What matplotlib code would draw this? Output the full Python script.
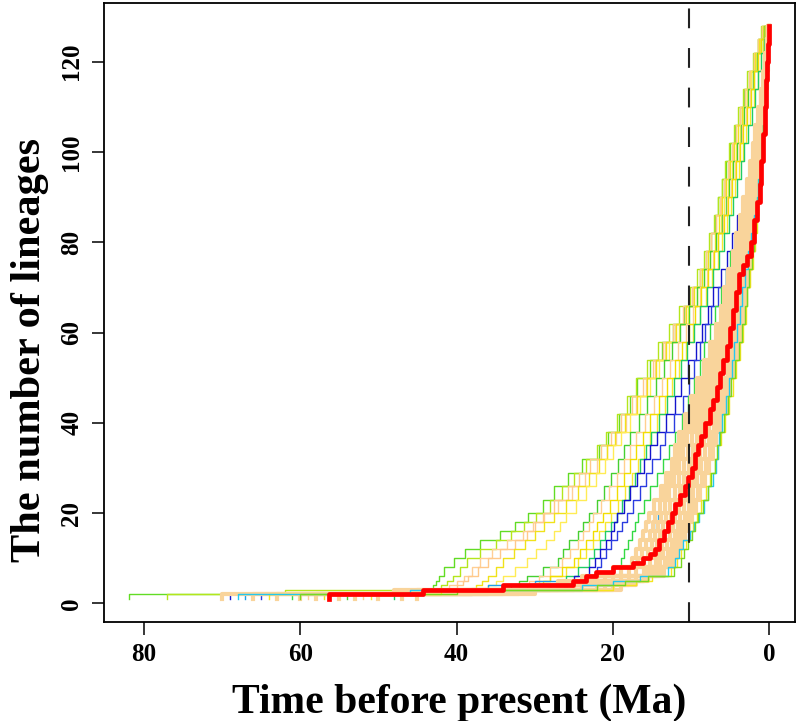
import matplotlib
matplotlib.use("Agg")
import matplotlib.pyplot as plt

plt.rcParams['font.family'] = ['Liberation Serif', 'DejaVu Serif']
plt.rcParams['font.weight'] = 'bold'

# number of lineages reached at each recorded event (shared by all trees);
# the last entry closes each curve at the present (time 0)
LEVELS = [1, 2,
          3, 4, 5, 6,
          8, 10, 12, 14, 16, 18, 20,
          23, 26, 29, 32, 35, 38,
          42, 46, 50, 54, 58, 62, 66, 70, 74, 78, 82, 86, 90, 94, 98, 102, 106, 110, 114, 118, 122,
          125, 128, 128]

# ---- upper-left fan of coloured trees: time (Ma) at which each level is reached
fan_green1 = [81.9, 81.9, 44.5, 43.0, 42.6, 42.3,
              41.6, 40.3, 38.9, 37.0, 34.5, 32.5, 30.8,
              29.0, 27.5, 25.8, 24.0, 21.8, 20.6,
              19.2, 17.8, 16.9, 15.2, 13.7, 12.3, 10.9, 9.7, 8.8, 8.1, 7.5, 7.0, 6.5, 6.0, 5.6, 5.0, 4.4, 3.8, 3.2, 2.6, 2.0,
              1.4, 0.9, 0]
fan_ygreen = [77, 77, 62.0, 42.0, 41.2, 40.5,
              39.5, 38.7, 37.0, 35.0, 33.0, 31.4, 29.8,
              28.0, 26.5, 25.0, 23.5, 22.0, 20.9,
              19.5, 18.2, 17.0, 15.6, 14.2, 12.8, 11.5, 10.2, 9.2, 8.4, 7.7, 7.1, 6.6, 6.1, 5.7, 5.1, 4.5, 4.0, 3.4, 2.8, 2.1,
              1.5, 1.0, 0]
fan_orange3 = [59, 59, 43.5, 41.0, 40.0, 39.0,
               38.0, 37.0, 35.5, 33.5, 31.5, 30.2, 28.8,
               27.0, 25.2, 23.6, 22.0, 20.7, 19.6,
               18.3, 17.0, 15.8, 14.6, 13.3, 12.0, 10.8, 9.8, 8.9, 8.1, 7.4, 6.8, 6.3, 5.8, 5.3, 4.8, 4.3, 3.7, 3.1, 2.5, 1.9,
               1.4, 0.9, 0]
fan_orange1 = [58, 58, 42.0, 40.0, 39.2, 38.5,
               37.2, 36.0, 34.5, 32.5, 31.0, 30.0, 29.0,
               27.5, 25.8, 24.3, 22.9, 21.5, 20.3,
               19.0, 17.6, 16.2, 14.9, 13.6, 12.3, 11.0, 9.9, 8.9, 8.1, 7.4, 6.8, 6.2, 5.7, 5.2, 4.7, 4.2, 3.7, 3.1, 2.6, 1.9,
               1.4, 0.9, 0]
fan_yellow1 = [57, 57, 40.0, 37.5, 36.8, 36.0,
               35.0, 34.0, 32.7, 31.3, 30.0, 28.8, 27.5,
               26.0, 24.5, 23.0, 21.8, 20.8, 19.7,
               18.4, 16.9, 15.7, 14.5, 13.2, 11.9, 10.7, 9.6, 8.6, 7.8, 7.0, 6.4, 6.0, 5.5, 5.0, 4.5, 4.0, 3.5, 2.9, 2.4, 1.8,
               1.3, 0.8, 0]
fan_yellow2 = [55, 55, 39.0, 36.0, 35.0, 34.0,
               32.5, 31.0, 29.8, 28.5, 27.5, 26.8, 26.0,
               24.7, 23.4, 22.2, 21.0, 20.0, 19.0,
               17.8, 16.5, 15.2, 14.1, 12.8, 11.6, 10.4, 9.3, 8.4, 7.6, 6.8, 6.2, 5.8, 5.3, 4.8, 4.3, 3.8, 3.4, 2.8, 2.3, 1.7,
               1.2, 0.7, 0]
fan_green2 = [54, 54, 37.0, 33.0, 32.0, 31.0,
              29.0, 27.0, 26.4, 25.6, 24.5, 23.8, 23.0,
              22.1, 21.2, 20.3, 19.4, 18.6, 17.8,
              16.7, 15.6, 14.5, 13.5, 12.4, 11.4, 10.3, 9.3, 8.4, 7.6, 6.8, 6.1, 5.6, 5.1, 4.6, 4.1, 3.6, 3.2, 2.7, 2.1, 1.6,
              1.1, 0.7, 0]
fan_orange2 = [52, 52, 36.0, 32.0, 30.7, 29.5,
               28.0, 26.5, 25.5, 24.5, 23.8, 23.1, 22.5,
               21.5, 20.5, 19.5, 18.6, 17.8, 17.0,
               15.9, 14.8, 13.7, 12.7, 11.7, 10.7, 9.8, 8.9, 8.0, 7.2, 6.5, 5.9, 5.4, 4.9, 4.4, 3.9, 3.5, 3.0, 2.5, 2.0, 1.5,
               1.1, 0.6, 0]
fan_yellow4 = [51, 51, 35.0, 31.0, 29.5, 28.0,
               26.0, 24.5, 23.5, 22.6, 21.8, 21.0, 20.3,
               19.4, 18.5, 17.6, 16.8, 16.0, 15.3,
               14.3, 13.3, 12.4, 11.5, 10.6, 9.7, 8.9, 8.1, 7.3, 6.6, 6.0, 5.4, 4.9, 4.4, 3.9, 3.4, 3.0, 2.5, 2.0, 1.5, 1.1,
               0.8, 0.5, 0]
fan_yellow3 = [50, 50, 34.0, 30.0, 29.0, 28.0,
               26.5, 25.0, 24.2, 23.4, 22.6, 22.0, 21.3,
               20.4, 19.5, 18.6, 17.8, 17.0, 16.2,
               15.2, 14.1, 13.1, 12.1, 11.2, 10.3, 9.5, 8.7, 7.9, 7.1, 6.5, 5.8, 5.3, 4.8, 4.3, 3.8, 3.3, 2.9, 2.4, 1.9, 1.4,
               1.0, 0.6, 0]
fan_teal = [48, 48, 33.0, 28.0, 27.0, 26.0,
            24.5, 23.0, 22.4, 21.7, 21.0, 20.2, 19.5,
            18.8, 18.0, 17.2, 16.5, 15.8, 15.1,
            14.1, 13.1, 12.2, 11.3, 10.5, 9.6, 8.8, 8.0, 7.2, 6.4, 5.8, 5.1, 4.6, 4.1, 3.6, 3.2, 2.7, 2.2, 1.8, 1.4, 1.0,
            0.7, 0.4, 0]
fan_blue1 = [69, 69, 46.0, 30.0, 27.0, 25.0,
             23.0, 22.3, 21.6, 20.9, 20.3, 19.9, 19.5,
             18.6, 17.8, 16.9, 16.0, 15.2, 14.4,
             13.2, 12.1, 11.3, 10.4, 9.4, 8.6, 7.8, 7.2, 6.2, 5.4, 4.8, 4.1, 3.4, 3.0, 2.6, 2.2, 1.8, 1.4, 1.1, 0.8, 0.5,
             0.3, 0.15, 0]
fan_blue2 = [65, 65, 44.0, 28.0, 26.0, 24.0,
             22.0, 21.5, 20.9, 20.2, 19.5, 18.8, 18.2,
             17.4, 16.6, 15.8, 15.0, 14.0, 13.3,
             12.2, 11.1, 10.3, 9.6, 8.9, 8.2, 7.4, 6.6, 5.6, 4.9, 4.2, 3.6, 2.9, 2.5, 2.1, 1.7, 1.4, 1.1, 0.85, 0.6, 0.4,
             0.25, 0.1, 0]
fan_green3 = [61, 61, 43.0, 26.0, 24.0, 22.0,
              20.0, 19.0, 18.6, 18.1, 17.6, 17.2, 16.8,
              16.0, 15.2, 14.4, 13.6, 12.8, 12.1,
              11.2, 10.4, 9.6, 8.9, 8.3, 7.6, 6.9, 6.2, 5.6, 5.0, 4.4, 3.8, 3.4, 3.0, 2.6, 2.2, 1.8, 1.5, 1.2, 0.9, 0.6,
              0.35, 0.2, 0]
fan_cyan = [67, 67, 45.0, 36.0, 30.0, 24.0,
            19.0, 17.0, 16.4, 15.8, 15.2, 14.7, 14.2,
            13.5, 12.8, 12.2, 11.7, 11.2, 10.8,
            10.3, 9.6, 9.0, 8.3, 7.6, 6.9, 6.3, 5.7, 5.1, 4.6, 4.1, 3.6, 3.1, 2.7, 2.3, 1.9, 1.6, 1.3, 1.0, 0.7, 0.45,
            0.25, 0.1, 0]
fan_colors = ['#62DC24', '#B4E61C', '#FFCF95', '#FFC98A', '#F0E21A', '#FFEC55', '#46D030',
              '#FFD090', '#F8E830', '#F2DE00', '#20CC66', '#1414CC', '#2A3CE0', '#34DA44', '#1EA0E8']

# ---- dense band of posterior trees around the red curve
band_1 = [66, 66, 48, 30, 27, 24,
          20, 17.5, 17.1, 16.6, 16.2, 15.8, 15.4,
          14.7, 13.9, 13.2, 12.4, 12.0, 11.5,
          10.8, 10.0, 9.2, 8.4, 7.6, 6.8, 6.2, 5.8, 5.3, 4.7, 4.2, 3.7, 3.3, 2.9, 2.5, 2.1, 1.8, 1.4, 1.1, 0.8, 0.5,
          0.3, 0.15, 0]
band_2 = [63, 63, 45, 28, 25, 22,
          19, 16.8, 16.3, 15.8, 15.3, 14.9, 14.6,
          14.0, 13.4, 12.7, 12.0, 11.5, 11.0,
          10.3, 9.5, 8.8, 8.0, 7.3, 6.5, 5.9, 5.5, 5.0, 4.4, 3.9, 3.5, 3.1, 2.7, 2.3, 1.9, 1.7, 1.3, 1.0, 0.7, 0.45,
          0.3, 0.15, 0]
band_3 = [60, 60, 42, 27, 24, 21,
          18, 16.0, 15.5, 15.0, 14.6, 14.2, 13.9,
          13.3, 12.8, 12.2, 11.5, 11.0, 10.5,
          9.8, 9.0, 8.3, 7.6, 6.9, 6.2, 5.6, 5.2, 4.7, 4.2, 3.7, 3.3, 2.9, 2.5, 2.1, 1.8, 1.6, 1.2, 0.95, 0.7, 0.4,
          0.25, 0.1, 0]
band_4 = [58, 58, 40, 25, 22.5, 20,
          17, 15.2, 14.8, 14.4, 14.0, 13.6, 13.2,
          12.7, 12.1, 11.5, 10.9, 10.4, 9.9,
          9.2, 8.5, 7.9, 7.2, 6.6, 5.9, 5.3, 4.9, 4.4, 3.9, 3.5, 3.1, 2.7, 2.4, 2.0, 1.7, 1.5, 1.1, 0.9, 0.65, 0.4,
          0.25, 0.1, 0]
band_5 = [55, 55, 38, 24, 21.5, 19,
          16, 14.5, 14.1, 13.7, 13.3, 12.9, 12.6,
          12.0, 11.4, 10.9, 10.3, 9.8, 9.3,
          8.7, 8.0, 7.4, 6.8, 6.1, 5.5, 4.9, 4.5, 4.0, 3.6, 3.1, 2.7, 2.5, 2.2, 1.8, 1.6, 1.4, 1.0, 0.8, 0.55, 0.35,
          0.2, 0.1, 0]
band_6 = [53, 53, 36, 22, 20, 18,
          15.5, 14.0, 13.6, 13.1, 12.7, 12.3, 12.0,
          11.5, 10.9, 10.3, 9.8, 9.3, 8.8,
          8.2, 7.5, 6.9, 6.3, 5.7, 5.1, 4.6, 4.2, 3.8, 3.3, 2.9, 2.5, 2.3, 2.0, 1.7, 1.5, 1.3, 0.95, 0.75, 0.5, 0.3,
          0.2, 0.1, 0]
band_7 = [50, 50, 34, 21, 19, 17,
          15, 13.4, 13.0, 12.5, 12.1, 11.7, 11.4,
          10.9, 10.3, 9.8, 9.3, 8.8, 8.3,
          7.7, 7.0, 6.4, 5.9, 5.3, 4.7, 4.2, 3.9, 3.5, 3.0, 2.6, 2.3, 2.1, 1.8, 1.6, 1.4, 1.2, 0.9, 0.7, 0.45, 0.3,
          0.15, 0.05, 0]
band_8 = [47, 47, 32, 20, 18, 16,
          14.5, 12.9, 12.5, 12.0, 11.6, 11.2, 10.8,
          10.3, 9.7, 9.2, 8.7, 8.2, 7.7,
          7.1, 6.5, 5.9, 5.3, 4.8, 4.2, 3.8, 3.5, 3.1, 2.7, 2.3, 2.0, 1.9, 1.6, 1.4, 1.2, 1.05, 0.8, 0.6, 0.4, 0.25,
          0.1, 0.05, 0]
band_9 = [45, 45, 30, 19, 17, 15.5,
          14, 12.5, 12.0, 11.5, 11.1, 10.7, 10.3,
          9.7, 9.1, 8.6, 8.1, 7.6, 7.2,
          6.6, 6.0, 5.5, 4.9, 4.4, 3.9, 3.5, 3.2, 2.8, 2.4, 2.1, 1.8, 1.7, 1.5, 1.3, 1.1, 0.95, 0.7, 0.55, 0.4, 0.25,
          0.1, 0.05, 0]
band_10 = [70, 70, 38, 26, 21, 16,
           13.5, 12.2, 11.8, 11.3, 10.8, 10.3, 9.9,
           9.4, 8.8, 8.2, 7.7, 7.2, 6.8,
           6.2, 5.6, 5.1, 4.6, 4.1, 3.6, 3.2, 3.0, 2.6, 2.3, 2.0, 1.8, 1.6, 1.4, 1.2, 1.0, 0.9, 0.65, 0.5, 0.35, 0.2,
           0.1, 0.05, 0]
band_color = '#F9D49B'

# ---- coloured trees on the right edge of the band
right_yellow = [64, 64, 42, 20, 17, 15.0,
                12.6, 11.8, 11.3, 10.7, 10.2, 9.7, 9.3,
                8.7, 8.1, 7.6, 7.0, 6.6, 6.2,
                5.7, 5.2, 4.7, 4.2, 3.8, 3.4, 3.0, 2.8, 2.5, 2.1, 1.8, 1.6, 1.4, 1.2, 1.0, 0.85, 0.7, 0.5, 0.4, 0.25, 0.15,
                0.1, 0.05, 0]
right_cyan = [68, 68, 46, 24, 20, 16.5,
              13, 12.0, 11.6, 11.0, 10.2, 9.6, 9.0,
              8.4, 7.8, 7.2, 6.8, 6.6, 6.4,
              6.1, 5.6, 5.2, 4.8, 4.5, 4.1, 3.8, 3.5, 3.1, 2.7, 2.3, 1.9, 1.6, 1.4, 1.1, 0.9, 0.8, 0.6, 0.45, 0.3, 0.2,
              0.1, 0.05, 0]
right_green = [60, 60, 40, 22, 18.5, 15.5,
               12.2, 11.3, 10.9, 10.4, 9.9, 9.5, 9.1,
               8.5, 7.9, 7.4, 7.0, 6.7, 6.3,
               5.8, 5.3, 4.9, 4.4, 3.9, 3.5, 3.1, 2.9, 2.6, 2.2, 1.9, 1.7, 1.5, 1.3, 1.1, 0.95, 0.8, 0.55, 0.45, 0.3, 0.15,
               0.1, 0.05, 0]
right_colors = ['#F5E41E', '#22C8F0', '#78D820']

# ---- red reference curve
red_times = [56.3, 56.3, 44.3, 34.0, 25.1, 23.4, 22.2, 20.0, 17.4, 16.2, 15.2, 14.6, 14.1, 13.5, 13.0, 12.5,
             12.0, 11.4, 10.8, 10.4, 9.9, 9.5, 9.1, 8.7, 8.2, 7.6, 7.2, 6.7, 6.3, 5.9, 5.4, 5.0, 4.7, 4.3,
             3.9, 3.3, 2.8, 2.4, 2.0, 1.6, 1.2, 1.0, 0.8, 0.6, 0.45, 0.35, 0.2, 0.0]
red_lineages = [1, 2, 3, 4, 5, 6, 7, 8, 9, 10, 11, 12, 14, 16, 18, 20,
                22, 24, 26, 28, 30, 33, 35, 37, 40, 43, 45, 48, 51, 54, 57, 61, 65, 69,
                73, 75, 77, 80, 85, 89, 93, 98, 104, 110, 116, 120, 124, 128]

shift_time = 10.3

fig = plt.figure(figsize=(7.98, 7.21), dpi=100)
ax = fig.add_axes([104 / 798, 1 - 622 / 721, (795 - 104) / 798, (622 - 3) / 721])

fan = [fan_green1, fan_ygreen, fan_orange3, fan_orange1, fan_yellow1, fan_yellow2, fan_green2,
       fan_orange2, fan_yellow4, fan_yellow3, fan_teal, fan_blue1, fan_blue2, fan_green3, fan_cyan]
for times, col in zip(fan, fan_colors):
    ax.step(times, LEVELS, where='post', color=col, lw=1.0)

for times in [band_1, band_2, band_3, band_4, band_5, band_6, band_7, band_8, band_9, band_10]:
    ax.step(times, LEVELS, where='post', color=band_color, lw=3.0)

for times, col in zip([right_yellow, right_cyan, right_green], right_colors):
    ax.step(times, LEVELS, where='post', color=col, lw=1.0)

ax.step(red_times, red_lineages, where='post', color='#FF0000', lw=3.4)

ax.axvline(shift_time, color='#222222', lw=1.5, dashes=(9.5, 9.5))

ax.set_xlim(85.1, -3.29)
ax.set_ylim(-4.1, 133.0)
ax.set_xticks([80, 60, 40, 20, 0])
ax.set_yticks([0, 20, 40, 60, 80, 100, 120])
ax.tick_params(axis='both', direction='out', length=9, width=1.1, labelsize=18, pad=6)
for lab in ax.get_yticklabels():
    lab.set_rotation(90)
    lab.set_va('center')
for lab in ax.get_xticklabels() + ax.get_yticklabels():
    lab.set_fontweight('bold')
for sp in ax.spines.values():
    sp.set_linewidth(1.3)

fig.text(459 / 798, 1 - 703 / 721, 'Time before present (Ma)', ha='center', va='center',
         fontsize=30, fontweight='bold')
fig.text(30 / 798, 1 - 350 / 721, 'The number of lineages', ha='center', va='center',
         rotation=90, fontsize=30.5, fontweight='bold')

fig.savefig('out.png', dpi=100)
